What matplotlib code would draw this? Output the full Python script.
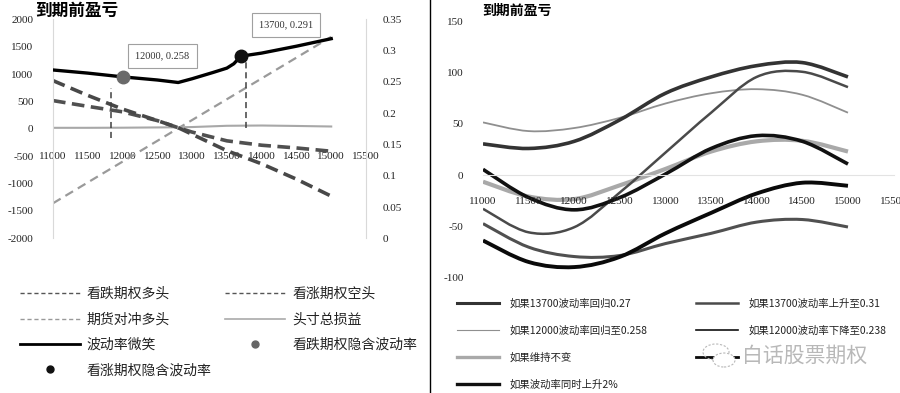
import matplotlib
matplotlib.use('Agg')
import matplotlib.pyplot as plt
import numpy as np
from matplotlib.path import Path
from matplotlib.patches import PathPatch, Ellipse
from matplotlib.lines import Line2D

plt.rcParams['font.family'] = ['Noto Sans CJK SC', 'DejaVu Sans']
plt.rcParams['axes.unicode_minus'] = False

# ---------------- left panel data ----------------
left_title = "到期前盈亏"
left_x = [11000, 11500, 12000, 12500, 12800, 13000, 13500, 14000, 14500, 15000]
long_put = [515, 410, 310, 150, 20, -60, -220, -300, -350, -410]
short_call = [880, 610, 360, 150, 20, -100, -400, -640, -920, -1230]
futures_hedge = [-1360, -980, -600, -220, 10, 160, 540, 920, 1300, 1680]
total_pnl = [18, 18, 20, 25, 28, 32, 55, 60, 52, 42]

smile_x = [11000, 11500, 12000, 12500, 12800, 13000, 13300, 13500, 13600, 13700, 14000, 14500, 15000]
smile_iv = [0.269, 0.264, 0.258, 0.253, 0.249, 0.255, 0.265, 0.272, 0.279, 0.291, 0.296, 0.307, 0.319]

put_iv_x, put_iv = 12000, 0.258
call_iv_x, call_iv = 13700, 0.291
guide_x = [11840, 13770]
guide_top = [0.240, 0.285]
guide_bottom = [0.161, 0.176]

left_xticks = list(range(11000, 15501, 500))
left_yticks = list(range(-2000, 2001, 500))
iv_yticks = [0, 0.05, 0.1, 0.15, 0.2, 0.25, 0.3, 0.35]
iv_ylabels = ["0", "0.05", "0.1", "0.15", "0.2", "0.25", "0.3", "0.35"]

left_labels = ["看跌期权多头", "看涨期权空头", "期货对冲多头", "头寸总损益",
               "波动率微笑", "看跌期权隐含波动率", "看涨期权隐含波动率"]

# ---------------- right panel data ----------------
right_title = "到期前盈亏"
right_x = [11000, 11500, 12000, 12500, 13000, 13500, 14000, 14500, 15000]
s_13700_back_027 = [30.5, 26, 33, 54, 80, 96, 107, 110, 96]
s_13700_up_031 = [-33, -56, -51, -17, 22, 61, 96, 101, 86]
s_12000_back_0258 = [51.5, 43, 46, 56, 70, 80, 84, 78.5, 61]
s_12000_down_0238 = [-47.5, -70.5, -79.7, -78.7, -67, -57, -46, -43.5, -50.8]
s_unchanged = [-6.5, -21, -23.5, -10, 6, 23, 33, 33.5, 23]
s_hidden = [-64, -85, -90, -80, -57, -37, -18, -7.5, -10.5]
s_both_up_2 = [5.6, -22, -34, -22, 1, 26, 38.5, 33, 10.8]
right_xticks = list(range(11000, 15501, 500))
right_yticks = list(range(-100, 151, 50))

lab_13700_back = "如果13700波动率回归0.27"
lab_13700_up = "如果13700波动率上升至0.31"
lab_12000_back = "如果12000波动率回归至0.258"
lab_12000_down = "如果12000波动率下降至0.238"
lab_unchanged = "如果维持不变"
lab_hidden = ""          # label hidden under the watermark in the original
lab_both_up = "如果波动率同时上升2%"
watermark = "白话股票期权"

tick_font = dict(family='Liberation Serif', size=8)


def smooth_path(xs, ys):
    pts = np.column_stack([xs, ys]).astype(float)
    n = len(pts)
    verts = [pts[0]]
    codes = [Path.MOVETO]
    for i in range(n - 1):
        p0 = pts[i - 1] if i > 0 else pts[i]
        p1 = pts[i]
        p2 = pts[i + 1]
        p3 = pts[i + 2] if i + 2 < n else pts[i + 1]
        verts += [p1 + (p2 - p0) / 6.0, p2 - (p3 - p1) / 6.0, p2]
        codes += [Path.CURVE4] * 3
    return Path(verts, codes)


fig = plt.figure(figsize=(9, 3.93), dpi=100)
W, H = 900, 393

# ================= left panel =================
ax = fig.add_axes([53 / W, 1 - 238.3 / H, (366 - 53) / W, (238.3 - 19.3) / H])
ax.set_xlim(11000, 15500)
ax.set_ylim(-2000, 2000)
for s in ['top', 'bottom']:
    ax.spines[s].set_visible(False)
for s in ['left', 'right']:
    ax.spines[s].set_color('#d9d9d9')
    ax.spines[s].set_linewidth(0.8)
ax.spines['bottom'].set_position(('data', 0))
ax.set_xticks(left_xticks)
ax.set_xticklabels([str(v) for v in left_xticks], **tick_font)
ax.set_yticks(left_yticks)
ax.set_yticklabels([str(v) for v in left_yticks], **tick_font)
ax.tick_params(axis='x', length=0, pad=16.5, colors='#222222')
ax.tick_params(axis='y', length=0, pad=14, colors='#222222')

ax.plot(left_x, futures_hedge, color='#9a9a9a', lw=1.6, dashes=(4, 2.5))
ax.plot(left_x, total_pnl, color='#a8a8a8', lw=1.5)
ax.plot(left_x, long_put, color='#505050', lw=2.6, dashes=(3.5, 1.8))
ax.plot(left_x, short_call, color='#484848', lw=2.6, dashes=(3.5, 1.8))

ax2 = ax.twinx()
ax2.set_ylim(0, 0.35)
ax2.set_xlim(11000, 15500)
for s in ['top', 'bottom', 'left', 'right']:
    ax2.spines[s].set_visible(False)
ax2.set_yticks(iv_yticks)
ax2.set_yticklabels(iv_ylabels, **tick_font)
ax2.tick_params(axis='y', length=0, pad=12, colors='#222222')

ax2.plot(smile_x, smile_iv, color='black', lw=2.4, solid_joinstyle='round')
ax2.vlines(guide_x, guide_bottom, guide_top, colors='#404040', lw=1.1, linestyles=(0, (4, 2.5)))
ax2.plot([put_iv_x], [put_iv], 'o', color='#6a6a6a', ms=9, zorder=5)
ax2.plot([call_iv_x], [call_iv], 'o', color='#111111', ms=9, zorder=5)
bbox = dict(boxstyle='square,pad=0.7', fc='white', ec='#a0a0a0', lw=0.8)
ax2.text(12573, 0.291, f"{put_iv_x}, {put_iv}", ha='center', va='center',
         fontsize=7.5, family='Liberation Serif', bbox=bbox, color='#333333')
ax2.text(14348, 0.3405, f"{call_iv_x}, {call_iv}", ha='center', va='center',
         fontsize=7.5, family='Liberation Serif', bbox=bbox, color='#333333')

fig.text(35 / W, 1 - 11 / H, left_title, fontsize=12, fontweight='bold', va='center', ha='left')

h_put = Line2D([], [], color='#555555', lw=1.0, dashes=(3, 2))
h_call = Line2D([], [], color='#555555', lw=1.0, dashes=(3, 2))
h_fut = Line2D([], [], color='#999999', lw=1.0, dashes=(3, 2))
h_tot = Line2D([], [], color='#aaaaaa', lw=1.2)
h_smile = Line2D([], [], color='black', lw=2.0)
h_putm = Line2D([], [], color='#666666', marker='o', ms=5, lw=0)
h_callm = Line2D([], [], color='#111111', marker='o', ms=5, lw=0)
leg1 = fig.legend([h_put, h_fut, h_smile, h_callm, h_call, h_tot, h_putm],
                  [left_labels[0], left_labels[2], left_labels[4], left_labels[6],
                   left_labels[1], left_labels[3], left_labels[5]],
                  ncol=2, loc='upper left', bbox_to_anchor=(20 / W, 1 - 287 / H),
                  frameon=False, fontsize=10, handlelength=4.3, handletextpad=0.5,
                  columnspacing=1.0, labelspacing=0.82, borderpad=0, borderaxespad=0)
for t in leg1.get_texts():
    t.set_color('#222222')

# divider
fig.add_artist(Line2D([430 / W, 430 / W], [0, 1], color='black', lw=1.0))

# ================= right panel =================
bx = fig.add_axes([483 / W, 1 - 277.3 / H, (893.6 - 483) / W, (277.3 - 21.7) / H])
bx.set_xlim(11000, 15500)
bx.set_ylim(-100, 150)
for s in ['top', 'left', 'right']:
    bx.spines[s].set_visible(False)
bx.spines['bottom'].set_position(('data', 0))
bx.spines['bottom'].set_color('#e3e3e3')
bx.spines['bottom'].set_linewidth(0.8)
bx.set_xticks(right_xticks)
bx.set_xticklabels([str(v) for v in right_xticks], **tick_font)
bx.set_yticks(right_yticks)
bx.set_yticklabels([str(v) for v in right_yticks], **tick_font)
bx.tick_params(axis='x', length=0, pad=16, colors='#222222')
bx.tick_params(axis='y', length=0, pad=14, colors='#222222')

series = [
    (s_12000_back_0258, '#8f8f8f', 1.3, lab_12000_back),
    (s_unchanged, '#a9a9a9', 3.0, lab_unchanged),
    (s_12000_down_0238, '#505050', 2.2, lab_12000_down),
    (s_13700_up_031, '#4a4a4a', 1.8, lab_13700_up),
    (s_13700_back_027, '#333333', 2.6, lab_13700_back),
    (s_both_up_2, '#111111', 2.6, lab_both_up),
    (s_hidden, '#0a0a0a', 2.8, lab_hidden),
]
legend_lw = {lab_12000_back: 0.8, lab_unchanged: 2.4, lab_12000_down: 1.2,
             lab_13700_up: 1.8, lab_13700_back: 2.2, lab_both_up: 2.4, lab_hidden: 2.0}
handles = {}
for ys, col, lw, lab in series:
    patch = PathPatch(smooth_path(right_x, ys), facecolor='none', edgecolor=col, lw=lw,
                      capstyle='butt', joinstyle='round')
    bx.add_patch(patch)
    hcol = '#111111' if lab == lab_12000_down else col
    handles[lab] = Line2D([], [], color=hcol, lw=legend_lw[lab])

fig.text(482 / W, 1 - 11 / H, right_title, fontsize=10, fontweight='bold', va='center', ha='left')

order = [lab_13700_back, lab_12000_back, lab_unchanged, lab_both_up,
         lab_13700_up, lab_12000_down, lab_hidden]
leg2 = fig.legend([handles[k] for k in order], order, ncol=2, loc='upper left',
                  bbox_to_anchor=(457 / W, 1 - 298 / H), frameon=False, fontsize=7.5,
                  handlelength=4.0, handletextpad=1.0, columnspacing=4.7,
                  labelspacing=1.62, borderpad=0, borderaxespad=0)
for t in leg2.get_texts():
    t.set_color('#222222')

# watermark
fig.text(742 / W, 1 - 356 / H, watermark, fontsize=15, color='#b8b8b8', va='center', ha='left',
         zorder=10)
fig.add_artist(Ellipse((716 / W, 1 - 352 / H), 26 / W, 16 / H, fill=False, ec='#b8b8b8',
                       lw=0.8, ls=(0, (2, 1.5)), zorder=11))
fig.add_artist(Ellipse((724 / W, 1 - 360 / H), 22 / W, 14 / H, fc='white', ec='#b8b8b8',
                       lw=0.8, ls=(0, (2, 1.5)), zorder=12))

fig.savefig('out.png', dpi=100)
